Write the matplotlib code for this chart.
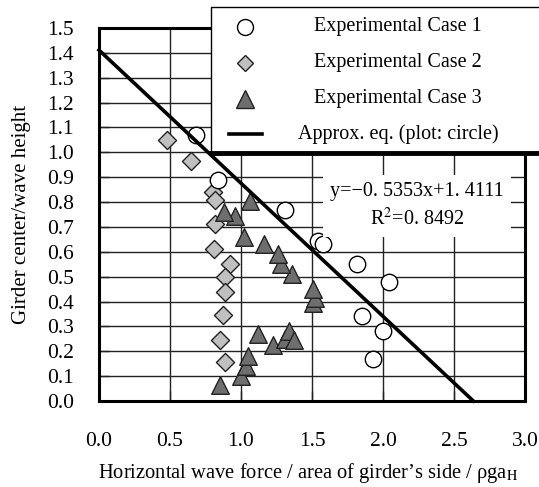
import numpy as np
import matplotlib
matplotlib.use("Agg")
import matplotlib.pyplot as plt
from matplotlib.patches import Rectangle

plt.rcParams['font.family'] = ['Liberation Serif', 'DejaVu Serif']
plt.rcParams['mathtext.fontset'] = 'stix'

# Experimental Case 1 (circles)
case1_x = [0.68, 0.84, 1.31, 1.54, 1.58, 1.82, 2.04, 1.85, 2.00, 1.93]
case1_y = [1.07, 0.89, 0.77, 0.645, 0.63, 0.55, 0.48, 0.34, 0.28, 0.17]

# Experimental Case 2 (diamonds)
case2_x = [0.48, 0.65, 0.80, 0.82, 0.82, 0.81, 0.92, 0.89, 0.89, 0.87, 0.85, 0.89]
case2_y = [1.05, 0.965, 0.84, 0.81, 0.71, 0.61, 0.55, 0.50, 0.44, 0.345, 0.245, 0.155]

# Experimental Case 3 (triangles)
case3_x = [0.85, 1.00, 1.035, 1.05, 1.12, 1.225, 1.31, 1.34, 1.37, 1.51, 1.52, 1.51,
           1.36, 1.28, 1.26, 1.16, 1.02, 0.955, 0.88, 1.06]
case3_y = [0.065, 0.10, 0.14, 0.18, 0.27, 0.225, 0.25, 0.28, 0.245, 0.395, 0.415, 0.45,
           0.51, 0.55, 0.59, 0.63, 0.66, 0.745, 0.76, 0.805]

# approximate equation fitted to case 1
slope = -0.5353
intercept = 1.4111
r2 = 0.8492

W, H = 539, 487
fig = plt.figure(figsize=(W / 100, H / 100), dpi=100)
ax = fig.add_axes([99 / W, 1 - 401 / H, (525 - 99) / W, (401 - 28) / H])

ax.set_xlim(0, 3.0)
ax.set_ylim(0, 1.5)
ax.set_xticks(np.arange(0, 3.01, 0.5))
ax.set_yticks(np.arange(0, 1.51, 0.1))
ax.set_xticklabels(['%.1f' % v for v in np.arange(0, 3.01, 0.5)])
ax.set_yticklabels(['%.1f' % v for v in np.arange(0, 1.51, 0.1)])
ax.grid(True, color='#222222', linewidth=1.0)
ax.set_axisbelow(True)
ax.tick_params(direction='in', length=7, width=1, labelsize=15.5, color='#222222')
ax.tick_params(axis='x', pad=22)
ax.tick_params(axis='y', pad=18)
for s in ax.spines.values():
    s.set_linewidth(2.2)
    s.set_color('black')

ax.scatter(case2_x, case2_y, marker='D', s=85, facecolor='#c0c0c0', edgecolor='#222222',
           linewidth=1, zorder=3)
ax.scatter(case3_x, case3_y, marker='^', s=160, facecolor='#6e6e6e', edgecolor='#222222',
           linewidth=1, zorder=4)
ax.scatter(case1_x, case1_y, marker='o', s=140, facecolor='white', edgecolor='black',
           linewidth=1, zorder=3)

x_end = -intercept / slope
xs = np.array([0, x_end])
ax.plot(xs, slope * xs + intercept, color='black', linewidth=2.6, zorder=5, clip_on=False)

eq1 = ('y=%.4fx+%.4f' % (slope, intercept)).replace('-', '−').replace('.', '. ')
eq2 = 'R$^2$=' + ('%.4f' % r2).replace('.', '. ')
ax.text(2.24, 0.785, eq1 + '\n' + eq2, fontsize=14.5, ha='center', va='center',
        linespacing=1.4, zorder=6,
        bbox=dict(facecolor='white', edgecolor='none', pad=5))

ax.set_xlabel('Horizontal wave force / area of girder’s side / ρga$_{\\rm H}$', fontsize=14.8)
ax.set_ylabel('Girder center/wave height', fontsize=15)
ax.xaxis.set_label_coords(0.49, -0.162)
ax.yaxis.set_label_coords(-0.16, 0.5)

# legend box drawn in pixel coordinates on top of everything
lg = fig.add_axes([0, 0, 1, 1], zorder=10)
lg.set_xlim(0, W)
lg.set_ylim(H, 0)
lg.axis('off')
lg.add_patch(Rectangle((211, 7), 340, 146, facecolor='white', edgecolor='black', linewidth=1))
lg.plot([211, W], [153, 153], color='black', linewidth=3.5)
rows = [27, 63, 99, 134]
labels = ['Experimental Case 1', 'Experimental Case 2', 'Experimental Case 3',
          'Approx. eq. (plot: circle)']
lg.plot(245, rows[0], marker='o', markersize=11.5, markerfacecolor='white', markeredgecolor='black', markeredgewidth=1)
lg.plot(245, rows[1], marker='D', markersize=8, markerfacecolor='#c0c0c0', markeredgecolor='#222222', markeredgewidth=1)
lg.plot(245, rows[2], marker='^', markersize=12.5, markerfacecolor='#6e6e6e', markeredgecolor='#222222', markeredgewidth=1)
lg.plot([229, 262], [rows[3], rows[3]], color='black', linewidth=2.6)
for r, t in zip(rows, labels):
    lg.text(398, r, t, ha='center', va='center', fontsize=14.5)

fig.savefig('out.png', dpi=100)
